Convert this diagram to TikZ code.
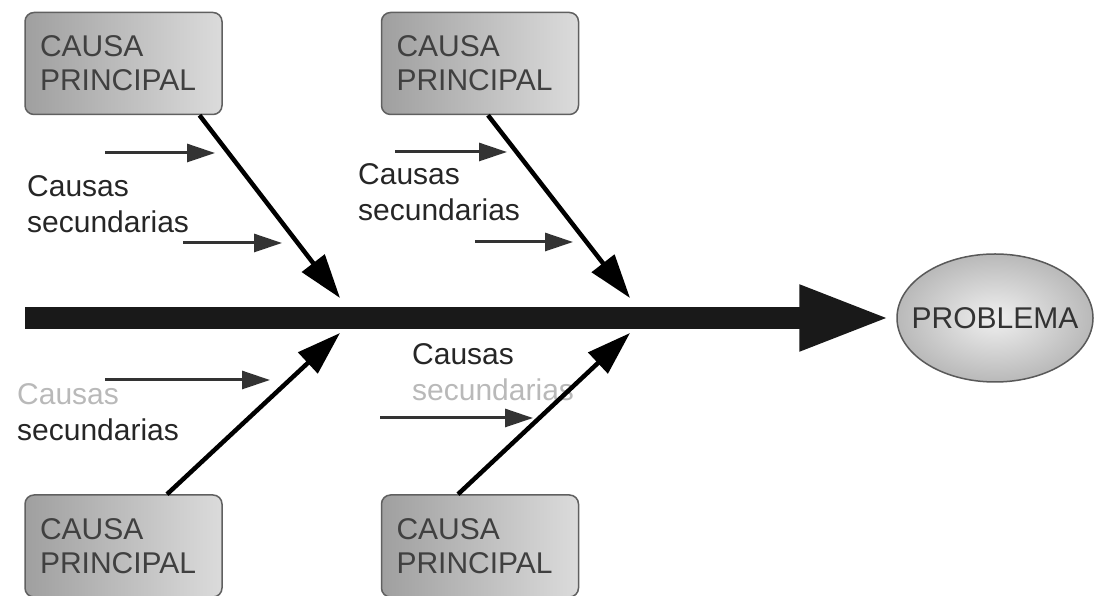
\documentclass[tikz,border=0pt]{standalone}
\usepackage{fontspec}
\setmainfont{Liberation Sans}
\usetikzlibrary{arrows.meta, shapes.geometric}

\begin{document}
\begin{tikzpicture}[x=1pt, y=1pt,
  causa/.style={draw=gray!75!black, line width=1.5pt, rounded corners=9pt,
    left color=gray!75, right color=gray!28, text=black!75,
    font=\fontsize{30}{34}\selectfont, align=left, text width=167pt,
    inner xsep=15pt, minimum height=102pt},
  problema/.style={ellipse, draw=gray!70!black, line width=1.5pt,
    inner color=gray!12, outer color=gray!55,
    minimum width=196pt, minimum height=128pt, inner sep=0pt},
  secund/.style={anchor=north west, inner sep=0pt, align=left, text=black!85,
    font=\fontsize{30}{36}\selectfont},
  espina/.style={line width=22pt, black!90, -{Triangle[length=92pt,width=60pt]}},
  rama/.style={line width=4.5pt, -{Triangle[length=44pt,width=28pt]}},
  flecha/.style={line width=3pt, black!80, -{Triangle[length=28pt,width=18pt]}}]

  \useasboundingbox (0,0) rectangle (1098,596);

  % causas principales
  \node[causa] (c1) at (123.5,532.5) {CAUSA\\PRINCIPAL};
  \node[causa] (c2) at (480,532.5) {CAUSA\\PRINCIPAL};
  \node[causa] (c3) at (123.5,50) {CAUSA\\PRINCIPAL};
  \node[causa] (c4) at (480,50) {CAUSA\\PRINCIPAL};

  % efecto
  \node[problema, label={[font=\fontsize{30}{34}\selectfont, text=gray!40!black]center:PROBLEMA}] (prob) at (995,278) {};

  % causas secundarias
  \node[secund] (l1) at (27,421) {Causas\\secundarias};
  \node[secund] (l2) at (358,433) {Causas\\secundarias};
  \node[secund] (l3) at (17,213) {\textcolor{gray!55}{Causas}\\secundarias};
  \node[secund] (l4) at (412,253) {Causas\\\textcolor{gray!55}{secundarias}};

  % espina
  \coordinate (cola) at (25,278);
  \draw[espina, shorten >=5pt] (cola) -- (prob);

  \coordinate (p1) at (340,298);
  \coordinate (p2) at (630,298);
  \coordinate (p3) at (340,263);
  \coordinate (p4) at (630,263);

  \draw[rama] ([xshift=76pt]c1.south) -- (p1);
  \draw[rama] ([xshift=8pt]c2.south) -- (p2);
  \draw[rama] ([xshift=43.5pt]c3.north) -- (p3);
  \draw[rama] ([xshift=-22pt]c4.north) -- (p4);

  \foreach \a/\b/\y [count=\i] in {105/215/443, 183/282/353, 395/507/444,
                                   475/573/354, 105/270/216, 380/533/178} {
    \coordinate (s\i a) at (\a,\y);
    \coordinate (s\i b) at (\b,\y);
    \draw[flecha] (s\i a) -- (s\i b);
  }
\end{tikzpicture}
\end{document}
